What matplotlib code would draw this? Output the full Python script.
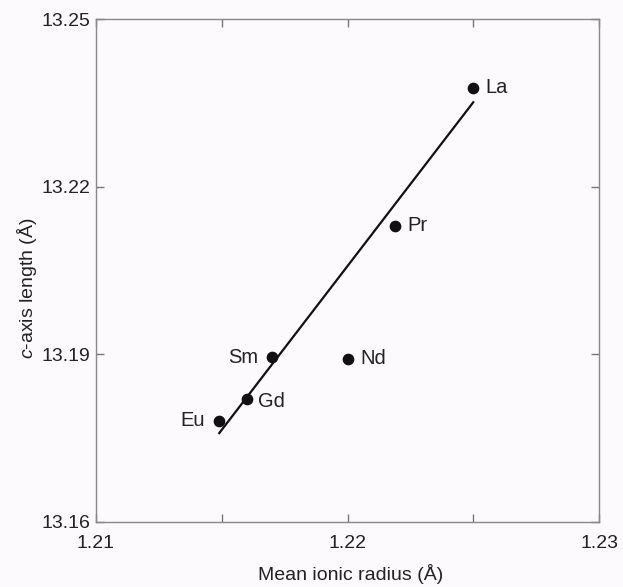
import matplotlib
matplotlib.use("Agg")
import matplotlib.pyplot as plt

# lanthanide data
elements = ["La", "Pr", "Nd", "Sm", "Eu", "Gd"]
radius = [1.2250, 1.2219, 1.2200, 1.2170, 1.2149, 1.2160]
c_axis = [13.2377, 13.2130, 13.1892, 13.1895, 13.1781, 13.1820]

# fitted line endpoints
fit_x = [1.2149, 1.2250]
fit_y = [13.1759, 13.2351]

# label offsets in points (dx, dy, ha)
label_pos = {"La": (9, 0, "left"), "Pr": (9, 0, "left"), "Nd": (9, 0, "left"),
             "Sm": (-10, 0, "right"), "Eu": (-10, 0, "right"), "Gd": (8, -2, "left")}

plt.rcParams["font.family"] = ["Liberation Sans", "DejaVu Sans"]
plt.rcParams["mathtext.fontset"] = "custom"
plt.rcParams["mathtext.it"] = "Liberation Sans:italic"
plt.rcParams["mathtext.rm"] = "Liberation Sans"

bg = "#fdfafd"
fig = plt.figure(figsize=(6.23, 5.87), dpi=100, facecolor=bg)
ax = fig.add_axes([96 / 623, 1 - 522 / 587, 503 / 623, 503 / 587], facecolor=bg)

ax.plot(fit_x, fit_y, color="#111111", lw=1.6)
ax.scatter(radius, c_axis, s=55, color="#111111", zorder=3)
for el, x, y in zip(elements, radius, c_axis):
    dx, dy, ha = label_pos[el]
    ax.annotate(el, (x, y), xytext=(dx, dy), textcoords="offset points",
                ha=ha, va="center", fontsize=14.5, color="#222222")

ax.set_xlim(1.21, 1.23)
ax.set_ylim(13.16, 13.25)
ax.set_xticks([1.21, 1.22, 1.23])
ax.set_xticklabels(["1.21", "1.22", "1.23"])
ax.set_xticks([1.215, 1.225], minor=True)
ax.set_yticks([13.16, 13.19, 13.22, 13.25])
ax.set_yticklabels(["13.16", "13.19", "13.22", "13.25"])

for sp in ax.spines.values():
    sp.set_color("#888888")
    sp.set_linewidth(1.0)
ax.tick_params(which="both", direction="in", top=True, right=True,
               length=6, width=1.0, color="#777777", labelsize=14,
               labelcolor="#222222")
ax.tick_params(axis="x", which="major", pad=9)
ax.tick_params(axis="y", which="major", pad=4)

ax.set_xlabel("Mean ionic radius (Å)", fontsize=14, color="#222222")
ax.set_ylabel("$c$-axis length (Å)", fontsize=14, color="#222222")
ax.xaxis.set_label_coords(0.507, -0.083)
ax.yaxis.set_label_coords(-0.113, 0.465)

fig.savefig("out.png", dpi=100, facecolor=bg)
